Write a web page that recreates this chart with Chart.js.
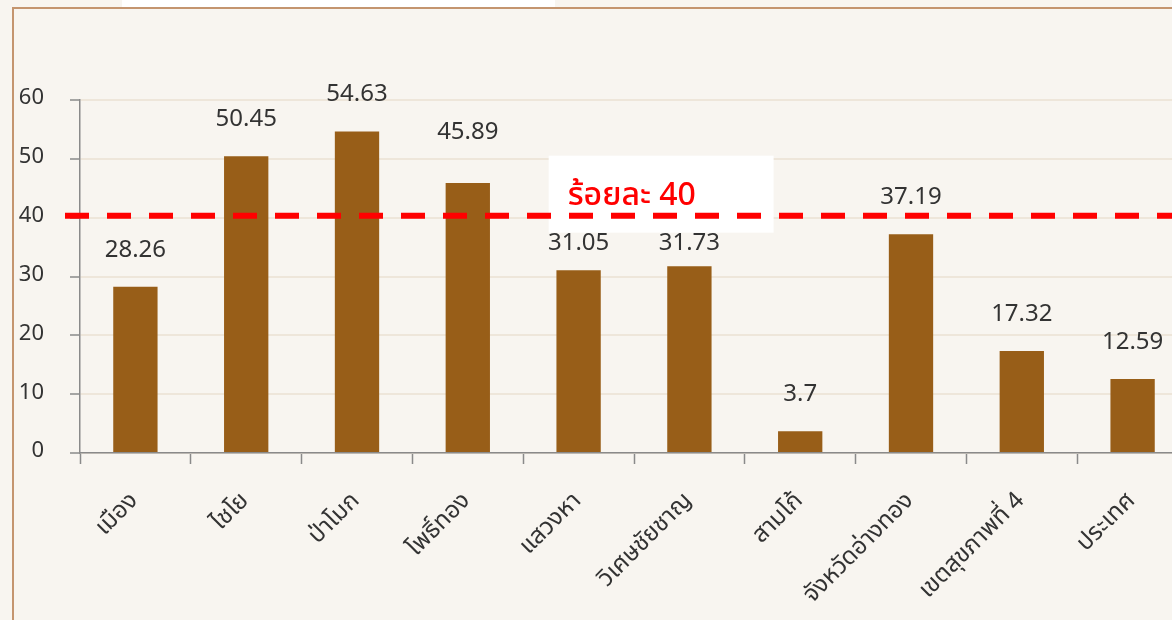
<!DOCTYPE html>
<html>
<head>
<meta charset="utf-8">
<script src="https://cdn.jsdelivr.net/npm/chart.js@4.4.0/dist/chart.umd.min.js"></script>
<style>
  html, body { margin: 0; padding: 0; background: #f8f5f0; overflow: hidden; width: 1172px; height: 620px; }
  #frame { position: absolute; left: 12px; top: 7px; width: 1220px; height: 700px; border: 2px solid #c4956f; box-sizing: border-box; }
  #titlebox { position: absolute; left: 122px; top: 0; width: 433px; height: 7px; background: #fff; }
  #wrap { position: absolute; left: 0; top: 0; width: 1200px; height: 620px; }
</style>
</head>
<body>
<div id="frame"></div>
<div id="titlebox"></div>
<div id="wrap"><canvas id="chart" width="1200" height="620"></canvas></div>
<script>
const CATEGORIES = ["เมือง", "ไชโย", "ป่าโมก", "โพธิ์ทอง", "แสวงหา", "วิเศษชัยชาญ", "สามโก้", "จังหวัดอ่างทอง", "เขตสุขภาพที่ 4", "ประเทศ"];
const VALUES     = [28.26, 50.45, 54.63, 45.89, 31.05, 31.73, 3.7, 37.19, 17.32, 12.59];
const Y_MIN = 0, Y_MAX = 60, Y_STEP = 10;
const TARGET       = 40;
const TARGET_LABEL = "ร้อยละ 40";

const FONT      = "'Noto Sans Thai', 'Noto Sans', 'DejaVu Sans', sans-serif";
const TEXT      = "#333333";
const BAR_COLOR = "#985e18";
const GRID      = "#eee6da";
const AXIS      = "#8a8a8a";

// distance (px) of each value label above its bar; a few were nudged in the original
const LABEL_GAP = 35;
const LABEL_GAP_OVERRIDE = { 3: 49, 4: 25, 5: 21 };

// value labels + target line with its white label box
const overlayPlugin = {
  id: "overlay",
  afterDatasetsDraw(chart) {
    const { ctx, chartArea, scales: { x, y } } = chart;
    const meta = chart.getDatasetMeta(0);
    ctx.save();

    const ty = y.getPixelForValue(TARGET);
    const bx0 = x.getPixelForValue(3.73);
    const bx1 = x.getPixelForValue(5.76);
    ctx.fillStyle = "#ffffff";
    ctx.fillRect(bx0, ty - 62, bx1 - bx0, 77);

    ctx.font = `24px ${FONT}`;
    ctx.fillStyle = TEXT;
    ctx.textAlign = "center";
    ctx.textBaseline = "middle";
    meta.data.forEach((bar, i) => {
      const gap = LABEL_GAP_OVERRIDE[i] ?? LABEL_GAP;
      ctx.fillText(String(VALUES[i]), bar.x, bar.y - gap);
    });

    ctx.font = `500 32px ${FONT}`;
    ctx.fillStyle = "#ff0000";
    ctx.textAlign = "left";
    ctx.textBaseline = "alphabetic";
    ctx.fillText(TARGET_LABEL, bx0 + 19, ty - 13);

    ctx.strokeStyle = "#ff0000";
    ctx.lineWidth = 6;
    ctx.setLineDash([24, 18]);
    ctx.beginPath();
    ctx.moveTo(chartArea.left - 15, ty - 2);
    ctx.lineTo(chart.width, ty - 2);
    ctx.stroke();
    ctx.restore();
  },
};

new Chart(document.getElementById("chart").getContext("2d"), {
  type: "bar",
  data: {
    labels: CATEGORIES,
    datasets: [{
      data: VALUES,
      backgroundColor: BAR_COLOR,
      borderWidth: 0,
      barPercentage: 0.4,
      categoryPercentage: 1,
    }],
  },
  options: {
    responsive: false,
    animation: false,
    layout: { padding: { top: 100, right: 12, left: 0, bottom: 0 } },
    plugins: { legend: { display: false }, tooltip: { enabled: false } },
    scales: {
      x: {
        afterFit: (s) => { s.height = 167; },
        grid: { drawOnChartArea: false, offset: true, tickColor: AXIS, tickLength: 11, tickWidth: 1.5 },
        border: { color: AXIS, width: 1.5 },
        ticks: { color: TEXT, font: { family: FONT, size: 24 }, minRotation: 45, maxRotation: 45, padding: 24 },
      },
      y: {
        min: Y_MIN, max: Y_MAX,
        afterFit: (s) => { s.width = 80; },
        grid: { color: GRID, lineWidth: 2, tickColor: AXIS, tickLength: 10, tickWidth: 1.5 },
        border: { color: AXIS, width: 1.5 },
        ticks: { stepSize: Y_STEP, color: TEXT, font: { family: FONT, size: 22 }, padding: 26 },
      },
    },
  },
  plugins: [overlayPlugin],
});
</script>
</body>
</html>
